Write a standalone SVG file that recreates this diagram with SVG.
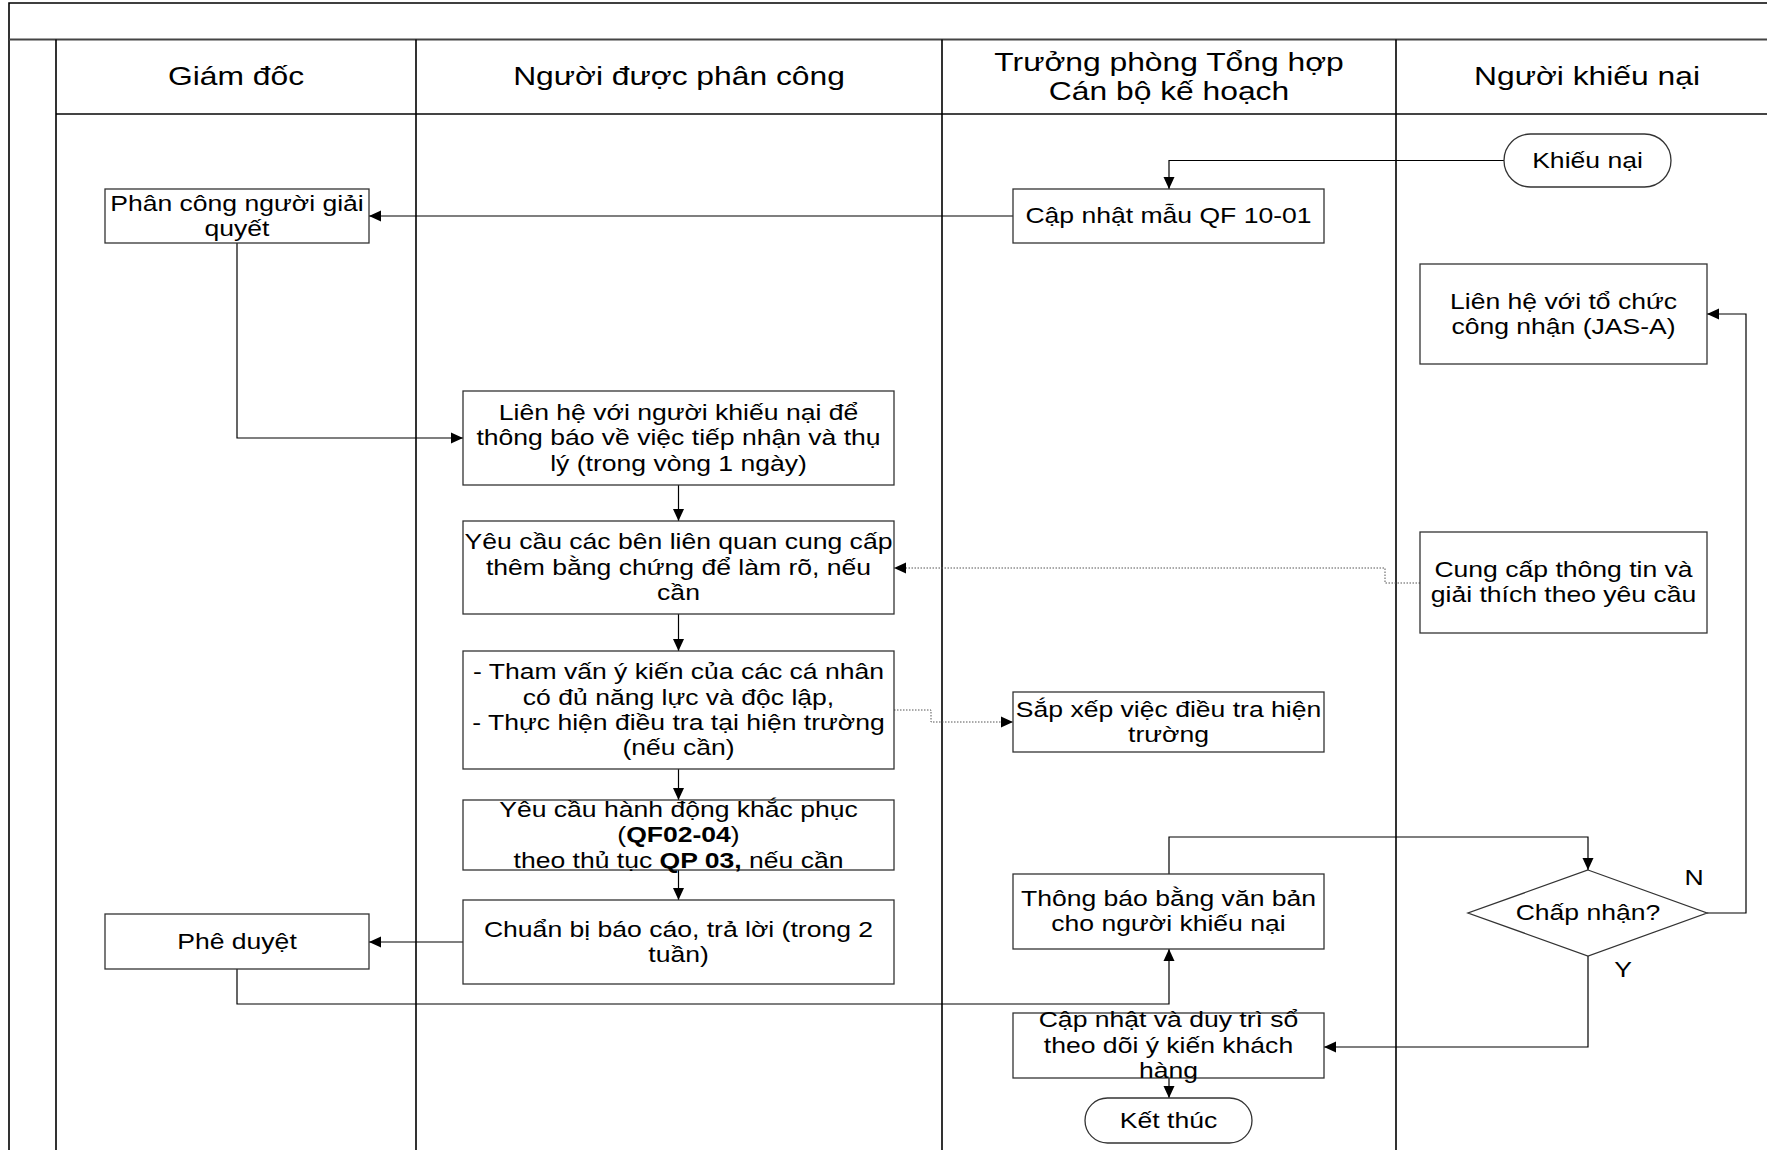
<svg xmlns="http://www.w3.org/2000/svg" width="1767" height="1150" viewBox="0 0 1767 1150">
<style>
.lane{fill:none;stroke:#000;stroke-width:1.6}
.hl{fill:none;stroke:#444;stroke-width:2}
.box{fill:#fff;stroke:#333;stroke-width:1.3}
.c{fill:none;stroke:#000;stroke-width:1.2}
.d{fill:none;stroke:#555;stroke-width:1;stroke-dasharray:1.5 1.5}
.t{font-family:"Liberation Sans",Arial,sans-serif;font-size:22.5px;fill:#000;text-anchor:middle}
.h{font-family:"Liberation Sans",Arial,sans-serif;font-size:26.5px;fill:#000;text-anchor:middle}
.b{font-weight:bold}
</style>
<defs>
<marker id="a" markerUnits="userSpaceOnUse" markerWidth="13" markerHeight="12" refX="12" refY="6" orient="auto"><path d="M0,0.5 L12,6 L0,11.5 z" fill="#000"/></marker>
</defs>
<rect width="1767" height="1150" fill="#fff"/>
<g id="frame">
<path class="lane" d="M9,1150 V3 H1767"/>
<path class="hl" d="M9,39.5 H1767"/>
<path class="hl" d="M56,114 H1767"/>
<path class="lane" d="M56,39.5 V1150 M416,39.5 V1150 M942,39.5 V1150 M1396,39.5 V1150"/>
<text class="h" transform="translate(236 0) scale(1.2 1)"><tspan x="0" y="85.5">Giám đốc</tspan></text>
<text class="h" transform="translate(679 0) scale(1.2 1)"><tspan x="0" y="85.5">Người được phân công</tspan></text>
<text class="h" transform="translate(1169 0) scale(1.2 1)"><tspan x="0" y="70.6">Trưởng phòng Tổng hợp</tspan><tspan x="0" y="100.5">Cán bộ kế hoạch</tspan></text>
<text class="h" transform="translate(1587 0) scale(1.2 1)"><tspan x="0" y="85.5">Người khiếu nại</tspan></text>
</g>
<g id="connectors">
<path class="c" d="M1504,160.5 H1169 V189" marker-end="url(#a)"/>
<path class="c" d="M1013,216 H369" marker-end="url(#a)"/>
<path class="c" d="M237,243 V438 H463" marker-end="url(#a)"/>
<path class="c" d="M678.5,485 V521" marker-end="url(#a)"/>
<path class="d" d="M1420,583 H1385 V568 H894" marker-end="url(#a)"/>
<path class="c" d="M678.5,614 V651" marker-end="url(#a)"/>
<path class="d" d="M894,710 H931 V722 H1013" marker-end="url(#a)"/>
<path class="c" d="M678.5,769 V800" marker-end="url(#a)"/>
<path class="c" d="M678.5,870 V900" marker-end="url(#a)"/>
<path class="c" d="M463,942 H369" marker-end="url(#a)"/>
<path class="c" d="M237,969 V1004 H1169 V949" marker-end="url(#a)"/>
<path class="c" d="M1169,874 V837 H1588 V870" marker-end="url(#a)"/>
<path class="c" d="M1707,913 H1746 V314 H1707" marker-end="url(#a)"/>
<path class="c" d="M1588,956 V1047 H1324" marker-end="url(#a)"/>
<path class="c" d="M1169,1078 V1098" marker-end="url(#a)"/>
<text class="t" transform="translate(1694 0) scale(1.18 1)"><tspan x="0" y="885">N</tspan></text>
<text class="t" transform="translate(1623 0) scale(1.18 1)"><tspan x="0" y="977">Y</tspan></text>
</g>
<g id="n-khieunai">
<rect class="box" x="1504" y="134" width="167" height="53" rx="26.5"/>
<text class="t" transform="translate(1587.5 0) scale(1.18 1)"><tspan x="0" y="168">Khiếu nại</tspan></text>
</g>
<g id="n-capnhatqf">
<rect class="box" x="1013" y="189" width="311" height="54"/>
<text class="t" transform="translate(1168.5 0) scale(1.18 1)"><tspan x="0" y="223">Cập nhật mẫu QF 10-01</tspan></text>
</g>
<g id="n-phancong">
<rect class="box" x="105" y="189" width="264" height="54"/>
<text class="t" transform="translate(237 0) scale(1.18 1)"><tspan x="0" y="210.6">Phân công người giải</tspan><tspan x="0" y="235.9">quyết</tspan></text>
</g>
<g id="n-jas">
<rect class="box" x="1420" y="264" width="287" height="100"/>
<text class="t" transform="translate(1563.5 0) scale(1.18 1)"><tspan x="0" y="308.6">Liên hệ với tổ chức</tspan><tspan x="0" y="333.9">công nhận (JAS-A)</tspan></text>
</g>
<g id="n-lienhe">
<rect class="box" x="463" y="391" width="431" height="94"/>
<text class="t" transform="translate(678.5 0) scale(1.18 1)"><tspan x="0" y="420">Liên hệ với người khiếu nại để</tspan><tspan x="0" y="445.3">thông báo về việc tiếp nhận và thụ</tspan><tspan x="0" y="470.6">lý (trong vòng 1 ngày)</tspan></text>
</g>
<g id="n-yeucau">
<rect class="box" x="463" y="521" width="431" height="93"/>
<text class="t" transform="translate(678.5 0) scale(1.18 1)"><tspan x="0" y="549.5">Yêu cầu các bên liên quan cung cấp</tspan><tspan x="0" y="574.8">thêm bằng chứng để làm rõ, nếu</tspan><tspan x="0" y="600.1">cần</tspan></text>
</g>
<g id="n-cungcap">
<rect class="box" x="1420" y="532" width="287" height="101"/>
<text class="t" transform="translate(1563.5 0) scale(1.18 1)"><tspan x="0" y="577.1">Cung cấp thông tin và</tspan><tspan x="0" y="602.4">giải thích theo yêu cầu</tspan></text>
</g>
<g id="n-thamvan">
<rect class="box" x="463" y="651" width="431" height="118"/>
<text class="t" transform="translate(678.5 0) scale(1.18 1)"><tspan x="0" y="679.3">- Tham vấn ý kiến của các cá nhân</tspan><tspan x="0" y="704.6">có đủ năng lực và độc lập,</tspan><tspan x="0" y="729.9">- Thực hiện điều tra tại hiện trường</tspan><tspan x="0" y="755.2">(nếu cần)</tspan></text>
</g>
<g id="n-sapxep">
<rect class="box" x="1013" y="692" width="311" height="60"/>
<text class="t" transform="translate(1168.5 0) scale(1.18 1)"><tspan x="0" y="716.6">Sắp xếp việc điều tra hiện</tspan><tspan x="0" y="741.9">trường</tspan></text>
</g>
<g id="n-khacphuc">
<rect class="box" x="463" y="800" width="431" height="70"/>
<text class="t" transform="translate(678.5 0) scale(1.18 1)"><tspan x="0" y="817">Yêu cầu hành động khắc phục</tspan><tspan x="0" y="842.3">(<tspan class="b">QF02-04</tspan>)</tspan><tspan x="0" y="867.6">theo thủ tục <tspan class="b">QP 03,</tspan> nếu cần</tspan></text>
</g>
<g id="n-chuanbi">
<rect class="box" x="463" y="900" width="431" height="84"/>
<text class="t" transform="translate(678.5 0) scale(1.18 1)"><tspan x="0" y="936.6">Chuẩn bị báo cáo, trả lời (trong 2</tspan><tspan x="0" y="961.9">tuần)</tspan></text>
</g>
<g id="n-pheduyet">
<rect class="box" x="105" y="914" width="264" height="55"/>
<text class="t" transform="translate(237 0) scale(1.18 1)"><tspan x="0" y="948.8">Phê duyệt</tspan></text>
</g>
<g id="n-thongbao">
<rect class="box" x="1013" y="874" width="311" height="75"/>
<text class="t" transform="translate(1168.5 0) scale(1.18 1)"><tspan x="0" y="906.1">Thông báo bằng văn bản</tspan><tspan x="0" y="931.4">cho người khiếu nại</tspan></text>
</g>
<g id="n-chapnhan">
<polygon class="box" points="1588,870 1707,913 1588,956 1468,913"/>
<text class="t" transform="translate(1588 0) scale(1.18 1)"><tspan x="0" y="920">Chấp nhận?</tspan></text>
</g>
<g id="n-capnhatso">
<rect class="box" x="1013" y="1013" width="311" height="65"/>
<text class="t" transform="translate(1168.5 0) scale(1.18 1)"><tspan x="0" y="1027.5">Cập nhật và duy trì sổ</tspan><tspan x="0" y="1052.8">theo dõi ý kiến khách</tspan><tspan x="0" y="1078.1">hàng</tspan></text>
</g>
<g id="n-ketthuc">
<rect class="box" x="1085" y="1098" width="167" height="45" rx="22.5"/>
<text class="t" transform="translate(1168.5 0) scale(1.18 1)"><tspan x="0" y="1127.8">Kết thúc</tspan></text>
</g>
</svg>
